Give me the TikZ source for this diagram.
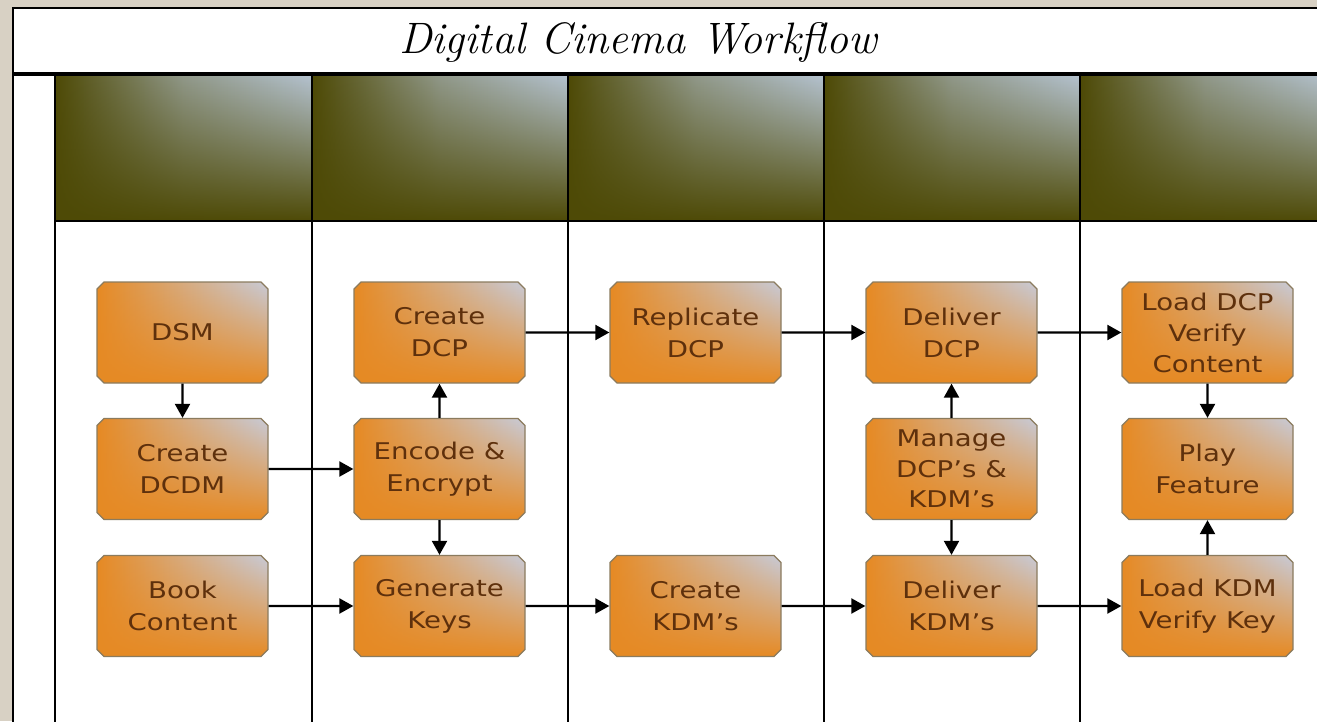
\documentclass[tikz,border=0pt]{standalone}
\usepackage{fontspec}
\usetikzlibrary{shapes.misc,arrows.meta,fadings}
\newfontfamily\boxfont[FakeStretch=1.2]{DejaVu Sans}
\definecolor{bgbeige}{HTML}{D8D1C4}
\definecolor{boxorange}{HTML}{E68A24}
\definecolor{boxlight}{HTML}{C8CBD8}
\definecolor{boxedge}{HTML}{8B7B5E}
\definecolor{boxtext}{HTML}{5E300C}
\definecolor{olive}{HTML}{4E4A06}
\definecolor{hlight}{HTML}{B4C2CF}
\tikzfading[name=fadeup, top color=transparent!100, middle color=transparent!75, bottom color=transparent!0]
\tikzfading[name=boxfade, top color=transparent!100, middle color=transparent!45, bottom color=transparent!0]
\tikzset{
  proc/.style={chamfered rectangle, chamfered rectangle sep=3.5pt,
    minimum width=171pt, minimum height=101pt, inner sep=0pt,
    draw=boxedge, line width=1.3pt,
    left color=boxorange, right color=boxlight,
    path picture={\fill[boxorange, path fading=boxfade]
      (path picture bounding box.south west) rectangle (path picture bounding box.north east);},
    align=center, text=boxtext, font=\boxfont\fontsize{23}{32}\selectfont},
  arr/.style={line width=2.2pt, -{Triangle[length=14pt,width=15pt]}},
  lane/.style={line width=2pt, black},
  hdr/.style={left color=olive, right color=hlight, middle color=olive!35!hlight}
}
\begin{document}
\begin{tikzpicture}[x=1pt,y=-1pt]
\useasboundingbox (0,0) rectangle (1317,721);
\clip (0,0) rectangle (1317,721);
\fill[bgbeige] (0,0) rectangle (1317,721);
\fill[white] (13,8) rectangle (1330,730);
% headers
\foreach \a/\b in {55/312,312/568,568/824,824/1080,1080/1330}{
  \shade[hdr] (\a,76) rectangle (\b,221);
  \fill[olive, path fading=fadeup] (\a,76) rectangle (\b,221);
}
% frame lines
\draw[line width=2.5pt] (13,8) -- (1330,8);
\draw[line width=2.5pt] (13,7) -- (13,730);
\draw[line width=4pt] (13,74) -- (1330,74);
\draw[lane] (55,221) -- (1330,221);
\foreach \x in {55,312,568,824,1080}{
  \draw[lane] (\x,74) -- (\x,730);
}
% title
\node (title) at (638,42) {\fontsize{44}{44}\selectfont\itshape Digital Cinema Workflow};
% boxes
\node[proc] (dsm)  at (182.5,332.5) {DSM};
\node[proc] (dcdm) at (182.5,469) {Create\\DCDM};
\node[proc] (book) at (182.5,606) {Book\\Content};
\node[proc] (cdcp) at (439.5,332.5) {Create\\DCP};
\node[proc] (enc)  at (439.5,469) {Encode \&\\Encrypt};
\node[proc] (gen)  at (439.5,606) {Generate\\Keys};
\node[proc] (rep)  at (695.5,332.5) {Replicate\\DCP};
\node[proc] (ckdm) at (695.5,606) {Create\\KDM’s};
\node[proc] (ddcp) at (951.5,332.5) {Deliver\\DCP};
\node[proc,font=\boxfont\fontsize{23}{30.5}\selectfont] (mng)  at (951.5,469) {Manage\\DCP’s \&\\KDM’s};
\node[proc] (dkdm) at (951.5,606) {Deliver\\KDM’s};
\node[proc,font=\boxfont\fontsize{23}{31}\selectfont] (ldcp) at (1207.5,332.5) {Load DCP\\Verify\\Content};
\node[proc] (play) at (1207.5,469) {Play\\Feature};
\node[proc] (lkdm) at (1207.5,606) {Load KDM\\Verify Key};
% connectors
\draw[arr] (dsm) -- (dcdm);
\draw[arr] (dcdm) -- (enc);
\draw[arr] (book) -- (gen);
\draw[arr] (enc) -- (cdcp);
\draw[arr] (enc) -- (gen);
\draw[arr] (cdcp) -- (rep);
\draw[arr] (rep) -- (ddcp);
\draw[arr] (ddcp) -- (ldcp);
\draw[arr] (gen) -- (ckdm);
\draw[arr] (ckdm) -- (dkdm);
\draw[arr] (dkdm) -- (lkdm);
\draw[arr] (mng) -- (ddcp);
\draw[arr] (mng) -- (dkdm);
\draw[arr] (ldcp) -- (play);
\draw[arr] (lkdm) -- (play);
\end{tikzpicture}
\end{document}
